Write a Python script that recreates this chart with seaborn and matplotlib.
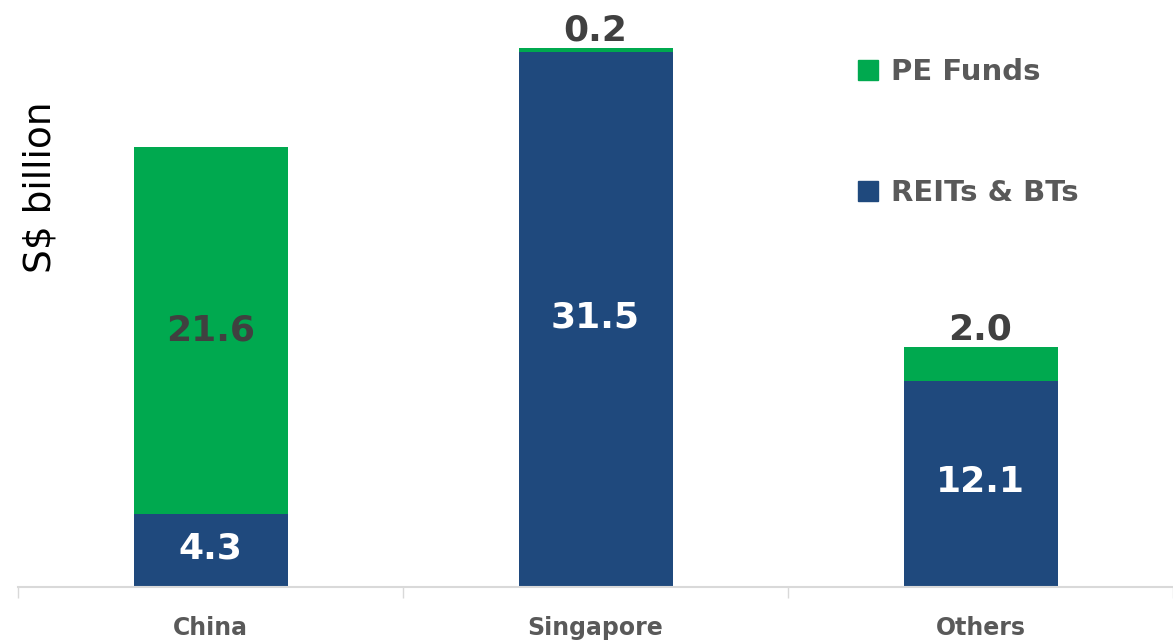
import pandas as pd
import seaborn as sns
import matplotlib.pyplot as plt
from matplotlib.lines import Line2D

sns.set_style("white")
plt.rcParams["font.family"] = ["DejaVu Sans"]

regions = ["China", "Singapore", "Others"]
reits_bts = [4.3, 31.5, 12.1]
pe_funds = [21.6, 0.2, 2.0]

green = "#00A94F"
blue = "#1F497D"
grey_text = "#404040"
tick_grey = "#595959"

df = pd.DataFrame({"region": regions, "reits": reits_bts, "pe": pe_funds})
df["total"] = df["reits"] + df["pe"]

fig = plt.figure(figsize=(11.73, 6.43), dpi=100)
ax = fig.add_axes([18 / 1173, 56 / 643, 1155 / 1173, 587 / 643])

# stacked bars: total in green, REITs drawn on top from zero
sns.barplot(data=df, x="region", y="total", color=green, saturation=1,
            width=0.4, linewidth=0, ax=ax)
sns.barplot(data=df, x="region", y="reits", color=blue, saturation=1,
            width=0.4, linewidth=0, ax=ax)

ax.set_ylim(0, 587 / 17.0)
ax.set_xlim(-0.5, 2.47)

# value labels
for i, row in df.iterrows():
    ax.text(i, row["reits"] / 2 + 0.1, f"{row['reits']:.1f}", ha="center",
            va="center", color="white", fontsize=26, fontweight="bold")
    if row["pe"] > 5:
        ax.text(i, row["reits"] + row["pe"] / 2, f"{row['pe']:.1f}", ha="center",
                va="center", color=grey_text, fontsize=26, fontweight="bold")
    else:
        ax.text(i, row["total"] + 0.05, f"{row['pe']:.1f}", ha="center",
                va="bottom", color=grey_text, fontsize=26, fontweight="bold")

# axes styling
for side in ["top", "right", "left"]:
    ax.spines[side].set_visible(False)
ax.spines["bottom"].set_color("#D9D9D9")
ax.spines["bottom"].set_linewidth(1.5)
ax.set_yticks([])
ax.set_xlabel("")
ax.set_ylabel("")
fig.text(40 / 1173, 1 - 187 / 643, "S$ billion", rotation=90, ha="center",
         va="center", fontsize=27, color="black")

ax.set_xticks([0, 1, 2])
ax.set_xticklabels(regions, fontsize=17, fontweight="bold", color=tick_grey,
                   family=["Liberation Sans Narrow", "DejaVu Sans"])
ax.tick_params(axis="x", which="major", length=0, pad=21, bottom=True)
ax.set_xticks([-0.5, 0.5, 1.5, 2.5], minor=True)
ax.tick_params(axis="x", which="minor", length=8, color="#D9D9D9", width=1,
               bottom=True)

handles = [
    Line2D([], [], marker="s", linestyle="", markersize=15, color=green,
           label="PE Funds"),
    Line2D([], [], marker="s", linestyle="", markersize=15, color=blue,
           label="REITs & BTs"),
]
leg = ax.legend(handles=handles, loc="upper left", bbox_to_anchor=(0.7234, 0.901),
                frameon=False, labelspacing=3.2, handlelength=1.0,
                handletextpad=0.3, borderpad=0, borderaxespad=0,
                prop={"size": 21, "weight": "bold"})
for t in leg.get_texts():
    t.set_color(tick_grey)

fig.savefig("out.png", dpi=100)
